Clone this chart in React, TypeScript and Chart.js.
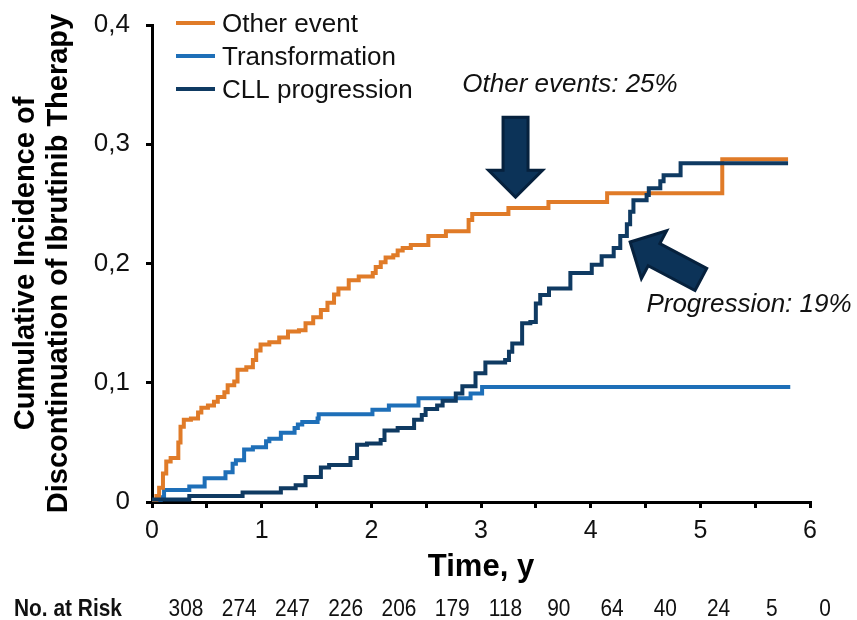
import React, { useEffect, useRef } from 'react';
import { Chart, registerables } from 'chart.js';

Chart.register(...registerables);

const FONT = '"Liberation Sans", Arial, Helvetica, sans-serif';

// Series names and colours
const seriesNames = ['Other event', 'Transformation', 'CLL progression'];
const seriesColors = ['#E07B28', '#1E6FB8', '#0F3A62'];

// Other event: cumulative incidence (years, proportion)
const otherTimes = [
  0, 0.04, 0.065, 0.1, 0.13, 0.17, 0.24, 0.26, 0.29, 0.355, 0.42, 0.45, 0.51, 0.565, 0.6,
  0.66, 0.69, 0.75, 0.78, 0.86, 0.92, 0.95, 0.99, 1.07, 1.16, 1.24, 1.34, 1.4, 1.47, 1.54,
  1.6, 1.66, 1.7, 1.794, 1.885, 2.013, 2.04, 2.086, 2.13, 2.2, 2.24, 2.286, 2.36, 2.52, 2.68,
  2.887, 2.92, 3.25, 3.615, 4.15, 5.2, 5.8,
];
const otherValues = [
  0, 0.005, 0.012, 0.024, 0.034, 0.037, 0.05, 0.063, 0.069, 0.07, 0.075, 0.079, 0.081, 0.084, 0.088,
  0.092, 0.098, 0.101, 0.111, 0.113, 0.119, 0.127, 0.132, 0.134, 0.138, 0.143, 0.144, 0.15, 0.155, 0.161,
  0.167, 0.174, 0.179, 0.186, 0.189, 0.192, 0.197, 0.201, 0.205, 0.207, 0.211, 0.213, 0.2155, 0.223, 0.227,
  0.2365, 0.2415, 0.2465, 0.2515, 0.259, 0.2875, 0.2875,
];

// Transformation
const transTimes = [
  0, 0.08, 0.11, 0.34, 0.48, 0.67, 0.735, 0.765, 0.84, 0.92, 1.04, 1.07, 1.175, 1.3, 1.33,
  1.37, 1.51, 1.52, 2.01, 2.16, 2.43, 2.905, 3.01, 5.82,
];
const transValues = [
  0, 0.004, 0.01, 0.013, 0.02, 0.025, 0.032, 0.035, 0.044, 0.046, 0.051, 0.053, 0.058, 0.062, 0.065,
  0.067, 0.07, 0.0735, 0.0774, 0.081, 0.087, 0.091, 0.0965, 0.0965,
];

// CLL progression
const progTimes = [
  0, 0.34, 0.826, 1.175, 1.31, 1.4, 1.54, 1.615, 1.81, 1.87, 1.96, 2.085, 2.12, 2.24, 2.39,
  2.46, 2.495, 2.6, 2.65, 2.77, 2.83, 2.95, 3.04, 3.22, 3.255, 3.285, 3.375, 3.45, 3.5, 3.54,
  3.62, 3.815, 4.01, 4.1, 4.21, 4.27, 4.33, 4.36, 4.39, 4.51, 4.53, 4.635, 4.665, 4.82, 5.8,
];
const progValues = [
  0.002, 0.005, 0.008, 0.0115, 0.014, 0.021, 0.029, 0.031, 0.037, 0.048, 0.049, 0.052, 0.06, 0.062, 0.069,
  0.073, 0.078, 0.081, 0.085, 0.091, 0.097, 0.108, 0.117, 0.119, 0.126, 0.133, 0.15, 0.151, 0.1665, 0.1735,
  0.179, 0.192, 0.199, 0.206, 0.213, 0.223, 0.233, 0.2435, 0.253, 0.2575, 0.263, 0.269, 0.274, 0.284, 0.284,
];

// Numbers at risk
const riskCounts = [308, 274, 247, 226, 206, 179, 118, 90, 64, 40, 24, 5, 0];

// Callout texts
const otherCallout = 'Other events: 25%';
const progCallout = 'Progression: 19%';

const toPoints = (ts: number[], vs: number[]) => ts.map((t, i) => ({ x: t, y: vs[i] }));

function drawArrow(ctx: CanvasRenderingContext2D, tipX: number, tipY: number, angle: number) {
  const len = 80;
  const headLen = 27;
  const headHalf = 27;
  const shaftHalf = 12.5;
  ctx.save();
  ctx.translate(tipX, tipY);
  ctx.rotate(angle);
  ctx.beginPath();
  ctx.moveTo(0, 0);
  ctx.lineTo(headLen, -headHalf);
  ctx.lineTo(headLen, -shaftHalf);
  ctx.lineTo(len, -shaftHalf);
  ctx.lineTo(len, shaftHalf);
  ctx.lineTo(headLen, shaftHalf);
  ctx.lineTo(headLen, headHalf);
  ctx.closePath();
  ctx.fillStyle = '#0C3358';
  ctx.fill();
  ctx.lineWidth = 3;
  ctx.lineJoin = 'miter';
  ctx.strokeStyle = '#06213D';
  ctx.stroke();
  ctx.restore();
}

// condensed text, like a narrow face
function narrowText(ctx: CanvasRenderingContext2D, text: string, x: number, y: number, sx: number) {
  ctx.save();
  ctx.translate(x, y);
  ctx.scale(sx, 1);
  ctx.fillText(text, 0, 0);
  ctx.restore();
}

const overlayPlugin = {
  id: 'overlay',
  afterDatasetsDraw(chart: any) {
    const { ctx, scales } = chart;
    const xs = scales.x;
    const ys = scales.y;

    // legend
    ctx.save();
    seriesNames.forEach((name, i) => {
      const y = 23 + i * 33;
      ctx.beginPath();
      ctx.moveTo(176, y);
      ctx.lineTo(215, y);
      ctx.lineWidth = 4;
      ctx.strokeStyle = seriesColors[i];
      ctx.stroke();
      ctx.fillStyle = '#111';
      ctx.font = `26px ${FONT}`;
      ctx.textAlign = 'left';
      ctx.textBaseline = 'middle';
      ctx.fillText(name, 222, y + 2);
    });
    ctx.restore();

    // callout arrows
    drawArrow(ctx, xs.getPixelForValue(3.315), ys.getPixelForValue(0.2556), -Math.PI / 2);
    drawArrow(ctx, xs.getPixelForValue(4.36), ys.getPixelForValue(0.218), Math.atan2(36.5, 69));

    ctx.save();
    ctx.fillStyle = '#111';
    ctx.font = `italic 26px ${FONT}`;
    ctx.textAlign = 'center';
    ctx.textBaseline = 'middle';
    ctx.fillText(otherCallout, 570, 85);
    ctx.fillText(progCallout, 749, 305);
    ctx.restore();

    // numbers at risk
    ctx.save();
    ctx.fillStyle = '#111';
    ctx.textBaseline = 'middle';
    ctx.font = `bold 24px ${FONT}`;
    ctx.textAlign = 'left';
    narrowText(ctx, 'No. at Risk', 14, 609, 0.87);
    ctx.font = `24px ${FONT}`;
    ctx.textAlign = 'center';
    riskCounts.forEach((n, i) => {
      narrowText(ctx, String(n), 186 + i * 53.25, 609, 0.87);
    });
    ctx.restore();
  },
};

export default function App() {
  const canvasRef = useRef<HTMLCanvasElement | null>(null);

  useEffect(() => {
    const canvas = canvasRef.current;
    if (!canvas) return;
    const mk = (i: number, ts: number[], vs: number[], order: number) => ({
      label: seriesNames[i],
      data: toPoints(ts, vs),
      borderColor: seriesColors[i],
      backgroundColor: seriesColors[i],
      borderWidth: 4,
      stepped: 'before' as const,
      pointRadius: 0,
      fill: false,
      order,
      borderJoinStyle: 'miter' as const,
      borderCapStyle: 'butt' as const,
    });

    const chart = new Chart(canvas, {
      type: 'line',
      data: {
        datasets: [
          mk(0, otherTimes, otherValues, 1),
          mk(1, transTimes, transValues, 2),
          mk(2, progTimes, progValues, 0),
        ],
      },
      options: {
        responsive: false,
        animation: false,
        layout: { padding: { left: 0, right: 47, top: 25, bottom: 0 } },
        plugins: { legend: { display: false }, tooltip: { enabled: false } },
        scales: {
          x: {
            type: 'linear',
            min: 0,
            max: 6,
            afterFit: (s: any) => {
              s.height = 118;
              s.paddingLeft = 0;
              s.paddingRight = 0;
            },
            border: { display: true, width: 3, color: '#000' },
            grid: { drawOnChartArea: false, drawTicks: true, tickLength: 6, lineWidth: 3, color: '#000' },
            ticks: {
              stepSize: 0.5,
              autoSkip: false,
              maxRotation: 0,
              padding: 8,
              color: '#111',
              font: { family: FONT, size: 25 },
              callback: (v: any) => (Number.isInteger(Number(v)) ? String(v) : ''),
            },
            title: {
              display: true,
              text: 'Time, y',
              color: '#000',
              font: { family: FONT, size: 31, weight: 'bold', lineHeight: 1.2 },
              padding: { top: 0, bottom: 34 },
            },
          },
          y: {
            min: 0,
            max: 0.4,
            afterFit: (s: any) => {
              s.width = 152;
              s.paddingTop = 0;
              s.paddingBottom = 0;
            },
            border: { display: true, width: 3, color: '#000' },
            grid: { drawOnChartArea: false, drawTicks: true, tickLength: 6, lineWidth: 3, color: '#000' },
            ticks: {
              stepSize: 0.1,
              padding: 16,
              color: '#111',
              font: { family: FONT, size: 26 },
              callback: (v: any) => {
                const r = Math.round(Number(v) * 10) / 10;
                return r === 0 ? '0' : r.toFixed(1).replace('.', ',');
              },
            },
            title: {
              display: true,
              text: ['Cumulative Incidence of', 'Discontinuation of Ibrutinib Therapy'],
              color: '#000',
              font: { family: FONT, size: 29, weight: 'bold', lineHeight: 1.15 },
              padding: { top: 9, bottom: 0 },
            },
          },
        },
      },
      plugins: [overlayPlugin],
    });
    return () => chart.destroy();
  }, []);

  return (
    <div style={{ position: 'absolute', left: 0, top: 0, width: 857, height: 620, background: '#fff' }}>
      <canvas ref={canvasRef} width={857} height={620} />
    </div>
  );
}
